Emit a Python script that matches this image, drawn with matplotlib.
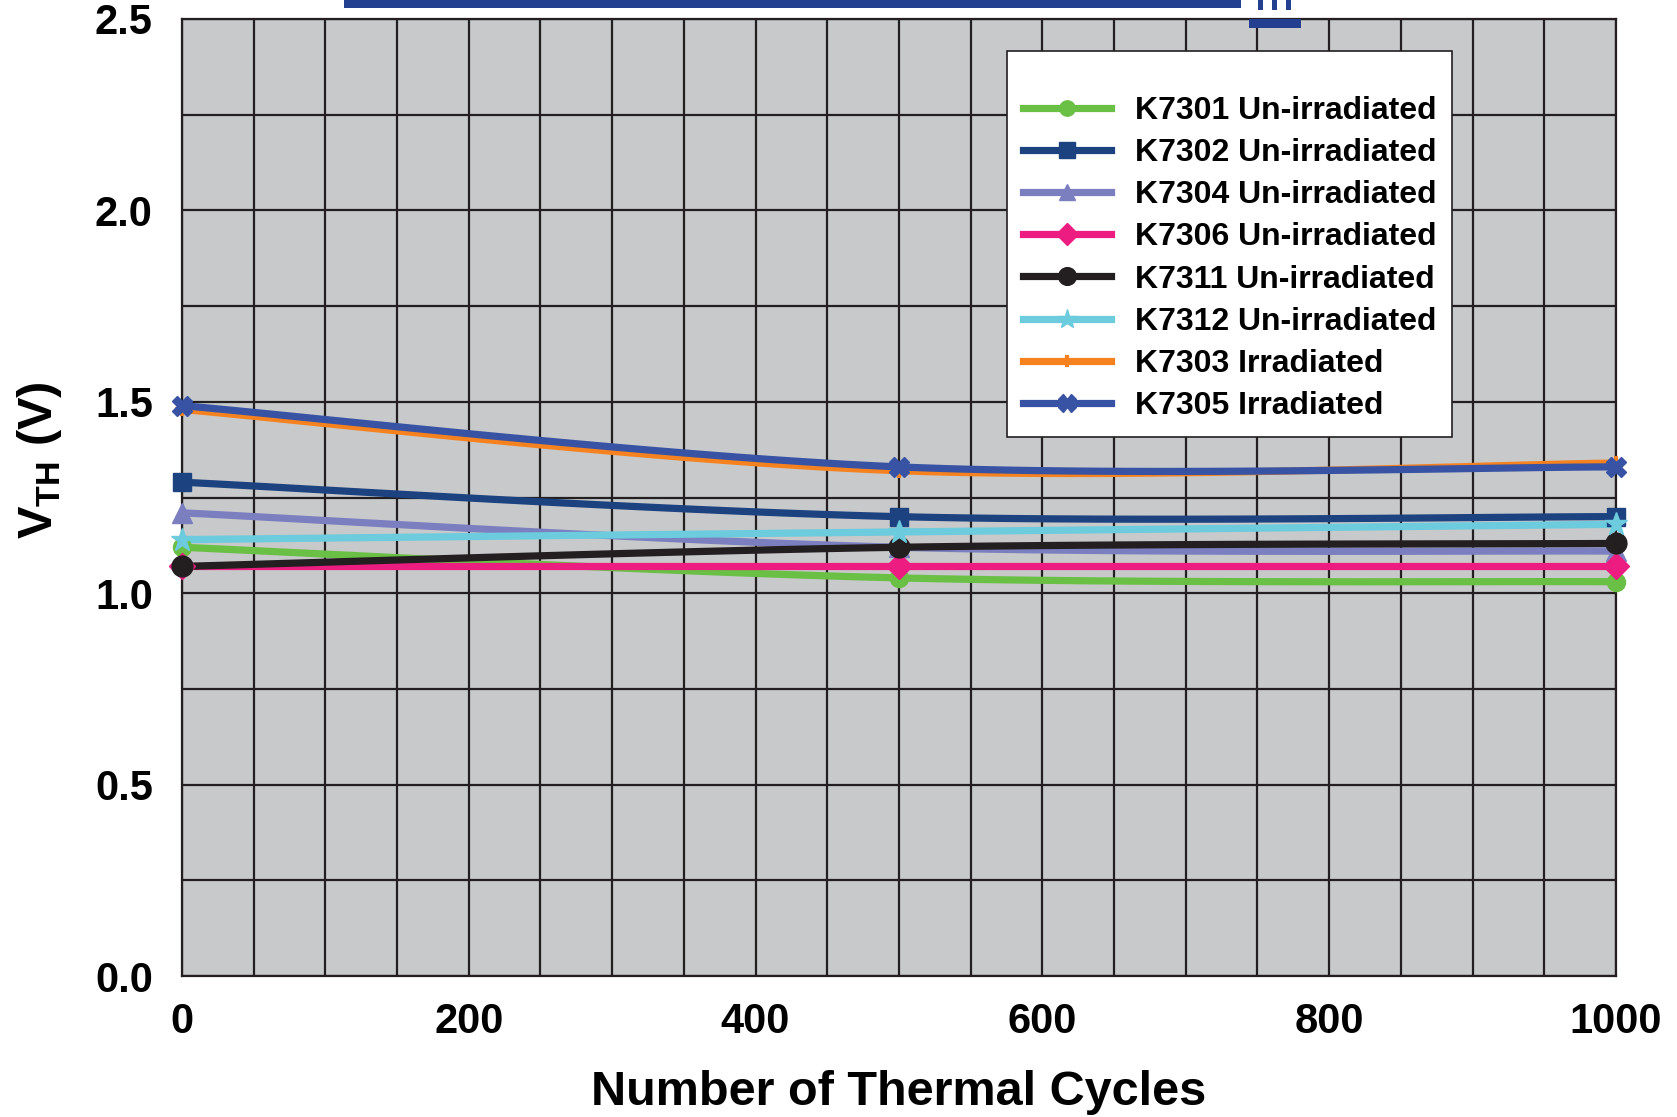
import matplotlib
matplotlib.use("Agg")
import matplotlib.pyplot as plt
from matplotlib.patches import Rectangle
import numpy as np

plt.rcParams['font.family'] = ['Liberation Sans', 'DejaVu Sans']
plt.rcParams['font.weight'] = 'bold'
plt.rcParams['axes.labelweight'] = 'bold'
plt.rcParams['mathtext.fontset'] = 'custom'
plt.rcParams['mathtext.rm'] = 'Liberation Sans:bold'
plt.rcParams['mathtext.bf'] = 'Liberation Sans:bold'

cycles = [0, 500, 1000]

labels = ["K7301 Un-irradiated", "K7302 Un-irradiated", "K7304 Un-irradiated",
          "K7306 Un-irradiated", "K7311 Un-irradiated", "K7312 Un-irradiated",
          "K7303 Irradiated", "K7305 Irradiated"]
k7301 = [1.12, 1.04, 1.03]
k7302 = [1.29, 1.20, 1.20]
k7304 = [1.21, 1.12, 1.11]
k7306 = [1.07, 1.07, 1.07]
k7311 = [1.07, 1.12, 1.13]
k7312 = [1.14, 1.16, 1.18]
k7303 = [1.48, 1.32, 1.34]
k7305 = [1.49, 1.33, 1.33]

colors = ["#6abf45", "#1d4280", "#7b7fc0", "#ec1c80",
          "#231f20", "#6ccbdc", "#f5821f", "#3953a4"]
markers = ["o", "s", "^", "D", "o", "*", "+", "X"]
msizes = [13, 13, 14, 13, 15, 17, 10, 15]


def smooth(xs, ys, n=60):
    """ excel style smoothed line through the points (bezier, tension 1/6) """
    p = np.column_stack([xs, ys]).astype(float)
    out = []
    for i in range(len(p) - 1):
        p0 = p[i - 1] if i > 0 else p[i]
        p1 = p[i]
        p2 = p[i + 1]
        p3 = p[i + 2] if i + 2 < len(p) else p[i + 1]
        c1 = p1 + (p2 - p0) / 6
        c2 = p2 - (p3 - p1) / 6
        t = np.linspace(0, 1, n)[:, None]
        seg = ((1 - t) ** 3) * p1 + 3 * ((1 - t) ** 2) * t * c1 \
            + 3 * (1 - t) * (t ** 2) * c2 + (t ** 3) * p2
        out.append(seg if i == 0 else seg[1:])
    out = np.vstack(out)
    return out[:, 0], out[:, 1]


fig = plt.figure(figsize=(16.77, 11.17), dpi=100)
ax = fig.add_axes([0.1085, 0.1262, 0.8551, 0.8568])
ax.set_facecolor("#c8c9cb")

series = [k7301, k7302, k7304, k7306, k7311, k7312, k7303, k7305]
for vals, lab, col, mk, ms in zip(series, labels, colors, markers, msizes):
    sx, sy = smooth(cycles, vals)
    ax.plot(sx, sy, color=col, lw=5.2, solid_capstyle='round', zorder=3)
    mew = 3 if mk == "+" else 1
    ax.plot(cycles, vals, ls='none', marker=mk, ms=ms, color=col,
            mec=col, mew=mew, zorder=4, clip_on=False)
    ax.plot([], [], color=col, lw=5.2, marker=mk, ms=ms * 0.85,
            mec=col, mew=mew, label=lab)

ax.set_xlim(0, 1000)
ax.set_ylim(0, 2.5)
ax.set_xticks(np.arange(0, 1001, 200))
ax.set_xticks(np.arange(0, 1001, 50), minor=True)
ax.set_yticks(np.arange(0, 2.51, 0.5))
ax.set_yticks(np.arange(0, 2.51, 0.25), minor=True)
ax.set_yticklabels([f"{v:.1f}" for v in np.arange(0, 2.51, 0.5)])
ax.grid(which='both', color="#231f20", lw=1.6)
ax.set_axisbelow(True)
ax.tick_params(which='both', length=0)
ax.tick_params(axis='x', labelsize=30, pad=19)
ax.tick_params(axis='y', labelsize=30, pad=21)
for s in ax.spines.values():
    s.set_color("#231f20")
    s.set_linewidth(1.6)

ax.set_xlabel("Number of Thermal Cycles", fontsize=35, fontweight='bold',
              labelpad=20)
ax.set_ylabel(r"V$_{\mathbf{TH}}$ (V)", fontsize=35, fontweight='bold')
ax.yaxis.set_label_coords(-0.082, 0.5385)

leg = ax.legend(loc='upper right', bbox_to_anchor=(0.886, 0.9666),
                borderaxespad=0, fontsize=23, labelspacing=0.38,
                handlelength=2.75, handletextpad=0.75, title=" ",
                title_fontsize=14, fancybox=False, framealpha=1,
                borderpad=0.5)
leg.get_frame().set_edgecolor("#231f20")
leg.get_frame().set_linewidth(1.2)

# header rule above the plot
fig.add_artist(Rectangle((344, 1109), 897, 8, transform=None,
                         color="#233f8f", lw=0))
for bx in (1258, 1272, 1286):
    fig.add_artist(Rectangle((bx, 1107), 5, 10, transform=None,
                             color="#233f8f", lw=0))
fig.add_artist(Rectangle((1249, 1089), 52, 9, transform=None,
                         color="#233f8f", lw=0))

fig.savefig("out.png", dpi=100)
